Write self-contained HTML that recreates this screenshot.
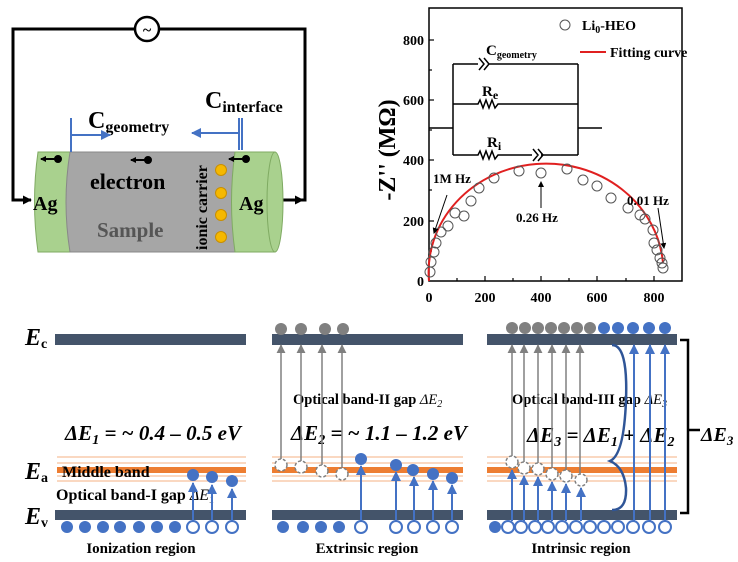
<!DOCTYPE html>
<html><head><meta charset="utf-8"><style>
html,body{margin:0;padding:0;background:#fff}
svg{display:block}
text{font-family:"Liberation Serif",serif;font-weight:bold}
</style></head><body>
<svg width="738" height="562" viewBox="0 0 738 562" xmlns="http://www.w3.org/2000/svg">
<defs>
<marker id="ab" markerWidth="6" markerHeight="6" refX="5" refY="3" orient="auto" markerUnits="userSpaceOnUse"><path d="M0,0L6,3L0,6z" fill="#000"/></marker>
<marker id="abk" viewBox="0 0 10 10" markerWidth="9" markerHeight="9" refX="9" refY="5" orient="auto" markerUnits="userSpaceOnUse"><path d="M0,0L10,5L0,10z" fill="#000"/></marker>
<marker id="abl" viewBox="0 0 10 10" markerWidth="10" markerHeight="10" refX="9" refY="5" orient="auto" markerUnits="userSpaceOnUse"><path d="M0,0L10,5L0,10z" fill="#4472c4"/></marker>
<marker id="agr" viewBox="0 0 10 10" markerWidth="9" markerHeight="9" refX="9" refY="5" orient="auto" markerUnits="userSpaceOnUse"><path d="M0,0L10,5L0,10z" fill="#808080"/></marker>
</defs>

<!-- circuit -->
<path d="M283,200 H305 V29 H159 M135,29 H13 V200 H30" fill="none" stroke="#000" stroke-width="3"/>
<path d="M283,200 L303,200" stroke="#000" stroke-width="3" marker-end="url(#abk)"/>
<path d="M13,200 L31,200" stroke="#000" stroke-width="3" marker-end="url(#abk)"/>
<circle cx="147" cy="29" r="12" fill="#fff" stroke="#000" stroke-width="2.5"/>
<text x="147" y="35" font-size="16" text-anchor="middle" font-weight="normal">~</text>

<!-- cylinder -->
<path d="M38,152 H72 Q64,202 72,252 H38 Q31,202 38,152z" fill="#a9d18e" stroke="#7faa62" stroke-width="1"/>
<path d="M70,152 H237 Q229,202 237,252 H70 Q62,202 70,152z" fill="#a6a6a6" stroke="#888"/>
<path d="M235,152 H275 Q284,202 275,252 H235 Q228,202 235,152z" fill="#a9d18e" stroke="#7faa62"/>
<ellipse cx="275" cy="202" rx="8" ry="50" fill="#a9d18e" stroke="#7faa62"/>
<text x="33" y="210" font-size="20">Ag</text>
<text x="239" y="210" font-size="20">Ag</text>
<text x="90" y="189" font-size="22">electron</text>
<text x="97" y="237" font-size="21" fill="#555">Sample</text>
<text transform="translate(207,250) rotate(-90)" font-size="16">ionic carrier</text>
<g fill="#f5b800" stroke="#c98f00"><circle cx="221" cy="170" r="5.5"/><circle cx="221" cy="193" r="5.5"/><circle cx="221" cy="215" r="5.5"/><circle cx="221" cy="237" r="5.5"/></g>
<g stroke="#000" stroke-width="2" fill="#000">
<line x1="58" y1="159" x2="41" y2="159" marker-end="url(#ab)"/><circle cx="58" cy="159" r="3"/>
<line x1="148" y1="160" x2="131" y2="160" marker-end="url(#ab)"/><circle cx="148" cy="160" r="3"/>
<line x1="246" y1="159" x2="229" y2="159" marker-end="url(#ab)"/><circle cx="246" cy="159" r="3"/>
</g>
<text x="88" y="128" font-size="24">C<tspan font-size="16" dy="4">geometry</tspan></text>
<text x="205" y="108" font-size="24">C<tspan font-size="16" dy="4">interface</tspan></text>
<g stroke="#4472c4" stroke-width="2" fill="none">
<line x1="71" y1="118" x2="71" y2="152"/><line x1="71" y1="135" x2="110" y2="135" marker-end="url(#abl)"/>
<line x1="239" y1="118" x2="239" y2="150"/><line x1="242" y1="118" x2="242" y2="150"/>
<line x1="239" y1="133" x2="192" y2="133" marker-end="url(#abl)"/>
</g>

<!-- plot -->
<rect x="429" y="8" width="253" height="273" fill="none" stroke="#000" stroke-width="1.5"/>
<g stroke="#000" stroke-width="1.2">
<line x1="429" y1="40" x2="434" y2="40"/><line x1="429" y1="100" x2="434" y2="100"/><line x1="429" y1="160" x2="434" y2="160"/><line x1="429" y1="221" x2="434" y2="221"/>
<line x1="429" y1="70" x2="432" y2="70"/><line x1="429" y1="130" x2="432" y2="130"/><line x1="429" y1="190" x2="432" y2="190"/><line x1="429" y1="251" x2="432" y2="251"/>
<line x1="485" y1="281" x2="485" y2="276"/><line x1="541" y1="281" x2="541" y2="276"/><line x1="597" y1="281" x2="597" y2="276"/><line x1="654" y1="281" x2="654" y2="276"/>
<line x1="457" y1="281" x2="457" y2="278"/><line x1="513" y1="281" x2="513" y2="278"/><line x1="569" y1="281" x2="569" y2="278"/><line x1="626" y1="281" x2="626" y2="278"/>
</g>
<g font-size="14" text-anchor="end"><text x="424" y="45">800</text><text x="424" y="105">600</text><text x="424" y="165">400</text><text x="424" y="226">200</text><text x="424" y="286">0</text></g>
<g font-size="14" text-anchor="middle"><text x="429" y="302">0</text><text x="485" y="302">200</text><text x="541" y="302">400</text><text x="597" y="302">600</text><text x="654" y="302">800</text></g>
<text transform="translate(395,150) rotate(-90)" font-size="24" text-anchor="middle">-Z'' (MΩ)</text>
<path d="M429,281 A117,108 0 0 1 663,263" fill="none" stroke="#e02020" stroke-width="2"/>
<g fill="none" stroke="#555" stroke-width="1">
<circle cx="430" cy="272" r="5"/><circle cx="431" cy="262" r="5"/><circle cx="434" cy="252" r="5"/><circle cx="436" cy="243" r="5"/><circle cx="441" cy="232" r="5"/><circle cx="448" cy="226" r="5"/><circle cx="455" cy="213" r="5"/><circle cx="464" cy="216" r="5"/><circle cx="471" cy="201" r="5"/><circle cx="479" cy="188" r="5"/><circle cx="494" cy="178" r="5"/><circle cx="519" cy="171" r="5"/><circle cx="541" cy="173" r="5"/><circle cx="567" cy="169" r="5"/><circle cx="583" cy="180" r="5"/><circle cx="597" cy="186" r="5"/><circle cx="611" cy="198" r="5"/><circle cx="628" cy="208" r="5"/><circle cx="640" cy="215" r="5"/><circle cx="645" cy="219" r="5"/><circle cx="653" cy="230" r="5"/><circle cx="654" cy="243" r="5"/><circle cx="657" cy="250" r="5"/><circle cx="660" cy="258" r="5"/><circle cx="662" cy="263" r="5"/><circle cx="663" cy="268" r="5"/>
</g>
<!-- inset circuit -->
<g stroke="#000" stroke-width="1.5" fill="none">
<path d="M429,128 H453 M453,64 V155 M578,64 V155 M578,128 H602"/>
<path d="M453,64 H478 M488,64 H578 M479,58 L484,64 L479,70 M484,58 L489,64 L484,70"/>
<path d="M453,104 H478 l2,-4 l3,8 l3,-8 l3,8 l3,-8 l3,8 l3,-4 H578"/>
<path d="M453,155 H478 l2,-4 l3,8 l3,-8 l3,8 l3,-8 l3,8 l3,-4 H532 M541,155 H578 M533,149 L538,155 L533,161 M538,149 L543,155 L538,161"/>
</g>
<text x="486" y="55" font-size="15">C<tspan font-size="10" dy="3">geometry</tspan></text>
<text x="482" y="96" font-size="15">R<tspan font-size="12" dy="3">e</tspan></text>
<text x="487" y="147" font-size="15">R<tspan font-size="12" dy="3">i</tspan></text>
<circle cx="565" cy="25" r="5" fill="none" stroke="#555"/>
<text x="582" y="30" font-size="14">Li<tspan font-size="10" dy="3">0</tspan><tspan dy="-3">-HEO</tspan></text>
<line x1="580" y1="52" x2="606" y2="52" stroke="#e02020" stroke-width="2"/>
<text x="610" y="57" font-size="14">Fitting curve</text>
<text x="433" y="183" font-size="13">1M Hz</text>
<line x1="447" y1="195" x2="434" y2="233" stroke="#000" marker-end="url(#ab)"/>
<text x="516" y="222" font-size="13">0.26 Hz</text>
<line x1="541" y1="208" x2="541" y2="182" stroke="#000" marker-end="url(#ab)"/>
<text x="627" y="205" font-size="13">0.01 Hz</text>
<line x1="658" y1="208" x2="664" y2="248" stroke="#000" marker-end="url(#ab)"/>

<!-- bottom -->
<text x="25" y="345" font-size="24" font-style="italic">E<tspan font-size="14" font-style="normal" dy="3">c</tspan></text>
<text x="25" y="479" font-size="24" font-style="italic">E<tspan font-size="14" font-style="normal" dy="3">a</tspan></text>
<text x="25" y="524" font-size="24" font-style="italic">E<tspan font-size="14" font-style="normal" dy="3">v</tspan></text>
<g fill="#44546a">
<rect x="55" y="334" width="191" height="11"/><rect x="55" y="510" width="191" height="10"/>
<rect x="272" y="334" width="191" height="11"/><rect x="272" y="510" width="191" height="10"/>
<rect x="487" y="334" width="190" height="11"/><rect x="487" y="510" width="190" height="10"/>
</g>
<g stroke="#f4b183" stroke-width="1">
<path d="M57,457H246M57,463H246M57,476H246M57,481H246"/>
<path d="M272,457H463M272,463H463M272,476H463M272,481H463"/>
<path d="M487,457H677M487,463H677M487,476H677M487,481H677"/>
</g>
<g fill="#ed7d31"><rect x="57" y="467" width="189" height="6"/><rect x="272" y="467" width="191" height="6"/><rect x="487" y="467" width="190" height="6"/></g>
<text x="62" y="477" font-size="16">Middle band</text>
<text x="56" y="500" font-size="16">Optical band-I gap <tspan font-style="italic" font-weight="normal">ΔE<tspan font-size="11" dy="3">1</tspan></tspan></text>
<text x="65" y="440" font-size="21" font-style="italic">ΔE<tspan font-size="14" dy="4">1</tspan><tspan dy="-4"> = ~ 0.4 – 0.5 eV</tspan></text>
<text x="293" y="404" font-size="14.5">Optical band-II gap <tspan font-style="italic" font-weight="normal">ΔE<tspan font-size="10" dy="3">2</tspan></tspan></text>
<text x="291" y="440" font-size="21" font-style="italic">ΔE<tspan font-size="14" dy="4">2</tspan><tspan dy="-4"> = ~ 1.1 – 1.2 eV</tspan></text>
<text x="512" y="404" font-size="14.5">Optical band-III gap <tspan font-style="italic" font-weight="normal">ΔE<tspan font-size="10" dy="3">3</tspan></tspan></text>
<text x="527" y="442" font-size="21" font-style="italic">ΔE<tspan font-size="14" dy="4">3</tspan><tspan dy="-4"> = ΔE</tspan><tspan font-size="14" dy="4">1</tspan><tspan dy="-4"> + ΔE</tspan><tspan font-size="14" dy="4">2</tspan></text>
<g font-size="15" text-anchor="middle"><text x="141" y="553">Ionization region</text><text x="367" y="553">Extrinsic region</text><text x="581" y="553">Intrinsic region</text></g>

<!-- panel 1 -->
<g fill="#4472c4"><circle cx="67" cy="527" r="6"/><circle cx="85" cy="527" r="6"/><circle cx="103" cy="527" r="6"/><circle cx="120" cy="527" r="6"/><circle cx="139" cy="527" r="6"/><circle cx="157" cy="527" r="6"/><circle cx="175" cy="527" r="6"/>
<circle cx="193" cy="475" r="6"/><circle cx="212" cy="477" r="6"/><circle cx="232" cy="481" r="6"/></g>
<g fill="#fff" stroke="#4472c4" stroke-width="2"><circle cx="193" cy="527" r="6"/><circle cx="212" cy="527" r="6"/><circle cx="232" cy="527" r="6"/></g>
<g stroke="#4472c4" stroke-width="2"><line x1="193" y1="521" x2="193" y2="483" marker-end="url(#abl)"/><line x1="212" y1="521" x2="212" y2="485" marker-end="url(#abl)"/><line x1="232" y1="521" x2="232" y2="489" marker-end="url(#abl)"/></g>

<!-- panel 2 -->
<g fill="#808080"><circle cx="281" cy="329" r="6"/><circle cx="301" cy="329" r="6"/><circle cx="325" cy="329" r="6"/><circle cx="343" cy="329" r="6"/></g>
<g stroke="#808080" stroke-width="1.5"><line x1="281" y1="459" x2="281" y2="345" marker-end="url(#agr)"/><line x1="301" y1="462" x2="301" y2="345" marker-end="url(#agr)"/><line x1="322" y1="465" x2="322" y2="345" marker-end="url(#agr)"/><line x1="342" y1="468" x2="342" y2="345" marker-end="url(#agr)"/></g>
<g fill="#fff" stroke="#808080" stroke-width="1.5" stroke-dasharray="3,2"><circle cx="281" cy="465" r="6"/><circle cx="301" cy="467" r="6"/><circle cx="322" cy="471" r="6"/><circle cx="342" cy="474" r="6"/></g>
<g fill="#4472c4"><circle cx="283" cy="527" r="6"/><circle cx="303" cy="527" r="6"/><circle cx="321" cy="527" r="6"/><circle cx="339" cy="527" r="6"/>
<circle cx="361" cy="459" r="6"/><circle cx="396" cy="465" r="6"/><circle cx="413" cy="470" r="6"/><circle cx="433" cy="474" r="6"/><circle cx="452" cy="478" r="6"/></g>
<g fill="#fff" stroke="#4472c4" stroke-width="2"><circle cx="361" cy="527" r="6"/><circle cx="396" cy="527" r="6"/><circle cx="414" cy="527" r="6"/><circle cx="433" cy="527" r="6"/><circle cx="452" cy="527" r="6"/></g>
<g stroke="#4472c4" stroke-width="2"><line x1="361" y1="521" x2="361" y2="466" marker-end="url(#abl)"/><line x1="396" y1="521" x2="396" y2="472" marker-end="url(#abl)"/><line x1="414" y1="521" x2="414" y2="477" marker-end="url(#abl)"/><line x1="433" y1="521" x2="433" y2="481" marker-end="url(#abl)"/><line x1="452" y1="521" x2="452" y2="485" marker-end="url(#abl)"/></g>

<!-- panel 3 -->
<g fill="#808080"><circle cx="512" cy="328" r="6"/><circle cx="525" cy="328" r="6"/><circle cx="538" cy="328" r="6"/><circle cx="551" cy="328" r="6"/><circle cx="564" cy="328" r="6"/><circle cx="577" cy="328" r="6"/><circle cx="590" cy="328" r="6"/></g>
<g fill="#4472c4"><circle cx="604" cy="328" r="6"/><circle cx="618" cy="328" r="6"/><circle cx="633" cy="328" r="6"/><circle cx="649" cy="328" r="6"/><circle cx="665" cy="328" r="6"/><circle cx="495" cy="527" r="6"/></g>
<g stroke="#808080" stroke-width="1.5"><line x1="512" y1="458" x2="512" y2="345" marker-end="url(#agr)"/><line x1="524" y1="462" x2="524" y2="345" marker-end="url(#agr)"/><line x1="538" y1="464" x2="538" y2="345" marker-end="url(#agr)"/><line x1="552" y1="468" x2="552" y2="345" marker-end="url(#agr)"/><line x1="566" y1="471" x2="566" y2="345" marker-end="url(#agr)"/><line x1="580" y1="474" x2="580" y2="345" marker-end="url(#agr)"/></g>
<g fill="#fff" stroke="#808080" stroke-width="1.5" stroke-dasharray="3,2"><circle cx="512" cy="462" r="6"/><circle cx="524" cy="468" r="6"/><circle cx="538" cy="469" r="6"/><circle cx="552" cy="474" r="6"/><circle cx="566" cy="476" r="6"/><circle cx="581" cy="480" r="6"/></g>
<g stroke="#4472c4" stroke-width="2"><line x1="512" y1="521" x2="512" y2="470" marker-end="url(#abl)"/><line x1="524" y1="521" x2="524" y2="476" marker-end="url(#abl)"/><line x1="538" y1="521" x2="538" y2="477" marker-end="url(#abl)"/><line x1="552" y1="521" x2="552" y2="482" marker-end="url(#abl)"/><line x1="566" y1="521" x2="566" y2="484" marker-end="url(#abl)"/><line x1="581" y1="521" x2="581" y2="488" marker-end="url(#abl)"/>
<line x1="634" y1="521" x2="634" y2="345" marker-end="url(#abl)"/><line x1="650" y1="521" x2="650" y2="345" marker-end="url(#abl)"/><line x1="665" y1="521" x2="665" y2="345" marker-end="url(#abl)"/></g>
<g fill="#fff" stroke="#4472c4" stroke-width="2"><circle cx="508" cy="527" r="6"/><circle cx="521" cy="527" r="6"/><circle cx="535" cy="527" r="6"/><circle cx="548" cy="527" r="6"/><circle cx="562" cy="527" r="6"/><circle cx="576" cy="527" r="6"/><circle cx="590" cy="527" r="6"/><circle cx="604" cy="527" r="6"/><circle cx="618" cy="527" r="6"/><circle cx="633" cy="527" r="6"/><circle cx="649" cy="527" r="6"/><circle cx="665" cy="527" r="6"/></g>
<path d="M612,345 Q628,345 626,400 Q624,455 610,461 Q624,467 626,488 Q627,510 612,510" fill="none" stroke="#2f5597" stroke-width="2.5"/>
<path d="M680,340 H688 V513 H680 M688,430 H700" fill="none" stroke="#000" stroke-width="2.5"/>
<text x="701" y="441" font-size="20" font-style="italic">ΔE<tspan font-size="13" dy="4">3</tspan></text>
</svg>
</body></html>
